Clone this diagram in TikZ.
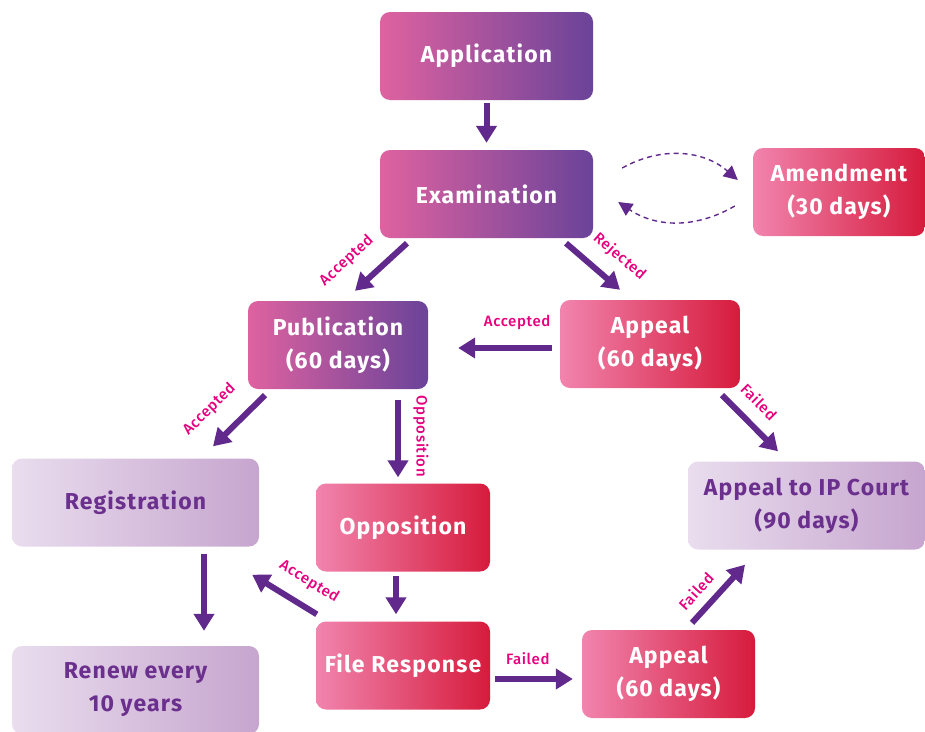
\documentclass[tikz,border=0pt]{standalone}
\usepackage{fontspec}
\setmainfont{Fira Sans}[LetterSpace=5]
\newfontfamily\iplblfont{Fira Sans Medium}[LetterSpace=4]
\usetikzlibrary{arrows.meta,calc}
\definecolor{ipPink}{HTML}{DF62A0}
\definecolor{ipPurple}{HTML}{6A4399}
\definecolor{ipRose}{HTML}{F184AE}
\definecolor{ipRed}{HTML}{D61B3C}
\definecolor{ipLavL}{HTML}{E9DDEE}
\definecolor{ipLavR}{HTML}{C6A5CE}
\definecolor{ipText}{HTML}{6B2F8D}
\definecolor{ipArrow}{HTML}{61298C}
\definecolor{ipMag}{HTML}{E6007E}
\begin{document}
\begin{tikzpicture}[
  x=1pt, y=-1pt,
  ipbox/.style = {rounded corners=10pt, minimum height=88pt, inner sep=0pt, align=center,
    text=white, font=\fontsize{23}{33}\selectfont\bfseries},
  ipmain/.style = {ipbox, left color=ipPink, right color=ipPurple},
  ipalert/.style = {ipbox, left color=ipRose, right color=ipRed},
  ipend/.style = {ipbox, left color=ipLavL, right color=ipLavR, text=ipText},
  iparr/.style = {line width=6pt, ipArrow, -{Triangle[width=20pt,length=17pt]}},
  ipdash/.style = {line width=1.4pt, ipArrow, dash pattern=on 5pt off 4pt,
    -{Triangle[width=14pt,length=14pt]}},
  iplbl/.style = {font=\iplblfont\fontsize{15}{15}\selectfont, text=ipMag, sloped}
]
  \useasboundingbox (0,0) rectangle (925,731);
  % 流程节点
  \node[ipmain, minimum width=213pt] (app) at (486.5,56) {Application};
  \node[ipmain, minimum width=213pt] (exam) at (486.5,194) {Examination};
  \node[ipalert, minimum width=172pt] (amend) at (839,192) {Amendment\\(30 days)};
  \node[ipmain, minimum width=180pt] (pub) at (338,345) {Publication\\(60 days)};
  \node[ipalert, minimum width=180pt] (appeal) at (650,344) {Appeal\\(60 days)};
  \node[ipend, minimum width=247pt] (reg) at (135.5,502.5) {Registration};
  \node[ipalert, minimum width=174pt] (opp) at (403,527.5) {Opposition};
  \node[ipend, minimum width=237pt] (court) at (806.5,505.5) {Appeal to IP Court\\(90 days)};
  \node[ipalert, minimum width=174pt] (resp) at (403,665.5) {File Response};
  \node[ipalert, minimum width=173pt] (appealb) at (668.5,674) {Appeal\\(60 days)};
  \node[ipend, minimum width=247pt] (renew) at (135.5,690) {Renew every\\10 years};
  % 箭头
  \draw[iparr] ($(app.south)+(0,3)$) -- ($(exam.north)+(0,-7)$);
  \draw[iparr] ($(exam.south)+(-79.5,5)$) --
    node[iplbl, pos=0.8, above=14pt] {Accepted} ($(pub.north)+(17,-10)$);
  \draw[iparr] ($(exam.south)+(79.5,5)$) --
    node[iplbl, pos=0.69, above=11pt] {Rejected} ($(appeal.north)+(-30,-10)$);
  \draw[iparr] ($(appeal.west)+(-8,4)$) --
    node[iplbl, pos=0.37, above=12pt] {Accepted} ($(pub.east)+(30,3)$);
  \draw[iparr] ($(pub.south)+(-73,6)$) --
    node[iplbl, pos=0.68, above=15pt] {Accepted} ($(reg.north)+(77.5,-12)$);
  \draw[iparr] ($(pub.south)+(60,11)$) --
    node[iplbl, pos=0.47, above=9pt] {Opposition} ($(opp.north)+(-5,-6)$);
  \draw[iparr] ($(appeal.south)+(72,7)$) --
    node[iplbl, pos=0.39, above=9pt] {Failed} ($(court.north)+(-28.5,-10)$);
  \draw[iparr] ($(reg.south)+(68.5,7)$) -- ($(renew.north)+(68.5,-15)$);
  \draw[iparr] ($(opp.south)+(-7,4)$) -- ($(resp.north)+(-7,-7)$);
  \draw[iparr] ($(resp.north west)+(1,-7)$) --
    node[iplbl, pos=0.31, above=10pt] {Accepted} ($(reg.south east)+(-7,28)$);
  \draw[iparr] ($(resp.east)+(5,13.5)$) --
    node[iplbl, pos=0.42, above=8pt] {Failed} ($(appealb.west)+(-9,5)$);
  \draw[iparr] ($(appealb.north)+(23.5,-7)$) --
    node[iplbl, pos=0.33, above=6pt] {Failed} ($(court.south)+(-61.5,15)$);
  % 修改往返
  \draw[ipdash] ($(exam.east)+(29,-26)$) to[bend left=35] ($(amend.west)+(-15,-12)$);
  \draw[ipdash] ($(amend.west)+(-18,14)$) to[bend left=32] ($(exam.east)+(25,8)$);
\end{tikzpicture}
\end{document}
